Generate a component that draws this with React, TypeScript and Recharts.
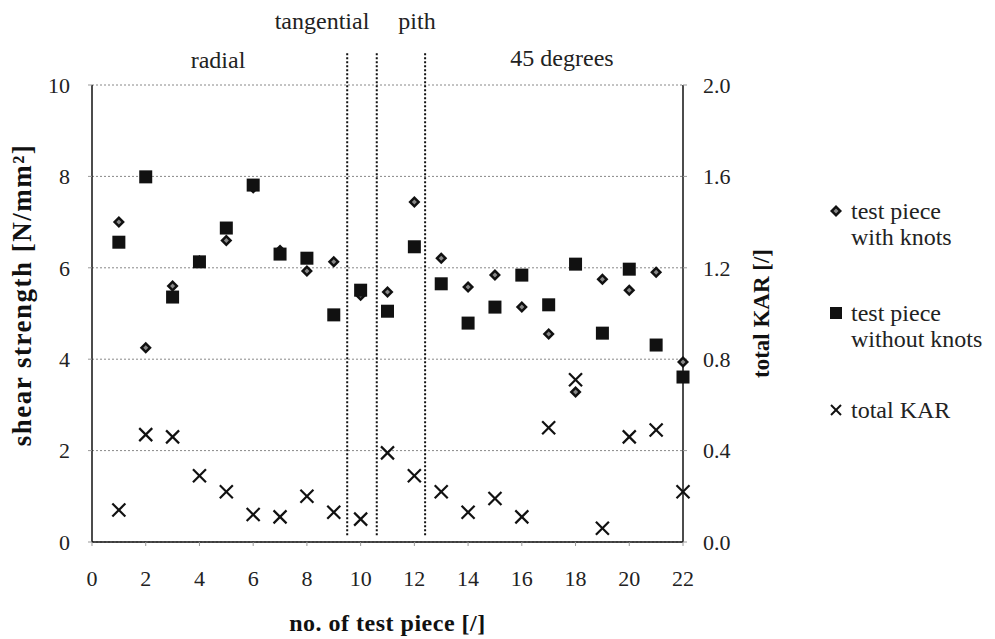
import { ComposedChart, Scatter, XAxis, YAxis, CartesianGrid, ReferenceLine, Label } from 'recharts';

const pieces = [1, 2, 3, 4, 5, 6, 7, 8, 9, 10, 11, 12, 13, 14, 15, 16, 17, 18, 19, 20, 21, 22];
const withKnots = [7.0, 4.25, 5.6, 6.15, 6.6, 7.75, 6.38, 5.93, 6.13, 5.4, 5.47, 7.44, 6.21, 5.58, 5.84, 5.14, 4.55, 3.28, 5.75, 5.51, 5.9, 3.94];
const withoutKnots = [6.56, 7.99, 5.36, 6.13, 6.87, 7.81, 6.3, 6.21, 4.97, 5.51, 5.05, 6.46, 5.65, 4.79, 5.14, 5.84, 5.19, 6.08, 4.57, 5.97, 4.31, 3.61];
const totalKar = [0.14, 0.47, 0.46, 0.29, 0.22, 0.12, 0.11, 0.2, 0.13, 0.1, 0.39, 0.29, 0.22, 0.13, 0.19, 0.11, 0.5, 0.71, 0.06, 0.46, 0.49, 0.22];

const xTicks = [0, 2, 4, 6, 8, 10, 12, 14, 16, 18, 20, 22];
const leftTicks = [0, 2, 4, 6, 8, 10];
const rightTicks = [0, 0.4, 0.8, 1.2, 1.6, 2.0];

// boundaries between the orientation groups
const groupBounds = [9.5, 10.6, 12.4];
const groupLabels = [
  { text: 'radial', x: 218, y: 60 },
  { text: 'tangential', x: 322, y: 21 },
  { text: 'pith', x: 417, y: 21 },
  { text: '45 degrees', x: 562, y: 58 },
];

const knotsData = pieces.map((p, i) => ({ x: p, y: withKnots[i] }));
const plainData = pieces.map((p, i) => ({ x: p, y: withoutKnots[i] }));
const karData = pieces.map((p, i) => ({ x: p, y: totalKar[i] }));

const font = '"Liberation Serif", "Times New Roman", serif';

const Diamond = (props: any) => {
  const { cx, cy } = props;
  const r = 6;
  const r2 = 2.5;
  return (
    <g>
      <path d={`M${cx},${cy - r}L${cx + r},${cy}L${cx},${cy + r}L${cx - r},${cy}Z`} fill="#111" />
      <path d={`M${cx},${cy - r2}L${cx + r2},${cy}L${cx},${cy + r2}L${cx - r2},${cy}Z`} fill="#888" />
    </g>
  );
};

const Square = (props: any) => {
  const { cx, cy } = props;
  return <rect x={cx - 6.5} y={cy - 6.5} width={13} height={13} fill="#111" />;
};

const Cross = (props: any) => {
  const { cx, cy } = props;
  const r = 6.5;
  return (
    <g stroke="#111" strokeWidth={2.2}>
      <line x1={cx - r} y1={cy - r} x2={cx + r} y2={cy + r} />
      <line x1={cx - r} y1={cy + r} x2={cx + r} y2={cy - r} />
    </g>
  );
};

const tickStyle = { fontFamily: font, fontSize: 22, fill: '#222' };
const labelBase = { fontFamily: font, fontWeight: 'bold' as const, fill: '#111', textAnchor: 'middle' as const };

const textBase: React.CSSProperties = {
  position: 'absolute',
  fontFamily: font,
  fontSize: 24,
  color: '#222',
  whiteSpace: 'nowrap',
  lineHeight: '26px',
};

export default function App() {
  return (
    <div style={{ position: 'absolute', left: 0, top: 0, width: 995, height: 639, background: '#fff' }}>
      <ComposedChart width={995} height={639} margin={{ top: 85, right: 212, bottom: 5, left: 0 }}>
        <CartesianGrid yAxisId="left" vertical={false} stroke="#888" strokeDasharray="2 2" />
        <XAxis
          xAxisId={0}
          dataKey="x"
          type="number"
          domain={[0, 22]}
          ticks={xTicks}
          interval={0}
          height={92}
          tick={tickStyle}
          tickSize={4}
          tickMargin={24}
          axisLine={{ stroke: '#111', strokeWidth: 1.5 }}
          tickLine={{ stroke: '#999' }}
        >
          <Label
            value="no. of test piece [/]"
            position="insideBottom"
            offset={3}
            style={{ ...labelBase, fontSize: 24, letterSpacing: 0.5 }}
          />
        </XAxis>
        <YAxis
          yAxisId="left"
          type="number"
          domain={[0, 10]}
          ticks={leftTicks}
          width={92}
          tick={tickStyle}
          tickSize={4}
          tickMargin={18}
          axisLine={{ stroke: '#111', strokeWidth: 1.5 }}
          tickLine={{ stroke: '#999' }}
        />
        <YAxis
          yAxisId="right"
          orientation="right"
          type="number"
          domain={[0, 2]}
          ticks={rightTicks}
          width={100}
          tick={tickStyle}
          tickFormatter={(v: number) => v.toFixed(1)}
          tickSize={4}
          tickMargin={16}
          axisLine={{ stroke: '#111', strokeWidth: 1.5 }}
          tickLine={{ stroke: '#999' }}
        >
          <Label
            value="total KAR [/]"
            angle={-90}
            position="insideRight"
            offset={22}
            style={{ ...labelBase, fontSize: 23 }}
          />
        </YAxis>
        {groupBounds.map((b) => (
          <ReferenceLine
            key={b}
            yAxisId="left"
            ifOverflow="visible"
            segment={[{ x: b, y: 0.15 }, { x: b, y: 10.7 }]}
            stroke="#111"
            strokeWidth={2}
            strokeDasharray="2 2"
          />
        ))}
        <Scatter yAxisId="left" data={knotsData} dataKey="y" shape={Diamond} isAnimationActive={false} />
        <Scatter yAxisId="left" data={plainData} dataKey="y" shape={Square} isAnimationActive={false} />
        <Scatter yAxisId="right" data={karData} dataKey="y" shape={Cross} isAnimationActive={false} />
      </ComposedChart>

      {/* left axis title sits a little above the plot centre in the original */}
      <svg width={60} height={639} style={{ position: 'absolute', left: 0, top: 0 }}>
        <text
          x={22}
          y={295}
          transform="rotate(-90, 22, 295)"
          textAnchor="middle"
          dominantBaseline="central"
          style={{ fontFamily: font, fontWeight: 'bold', fontSize: 27, letterSpacing: 1.5, fill: '#111' }}
        >
          shear strength [N/mm²]
        </text>
      </svg>

      {groupLabels.map((g) => (
        <div key={g.text} style={{ ...textBase, left: g.x, top: g.y - 13, transform: 'translateX(-50%)' }}>
          {g.text}
        </div>
      ))}

      <div style={{ ...textBase, left: 829, top: 198 }}>
        <svg width={14} height={14} style={{ position: 'absolute', left: 0, top: 6 }}>
          <path d="M7,1L13,7L7,13L1,7Z" fill="#111" />
          <path d="M7,4.5L9.5,7L7,9.5L4.5,7Z" fill="#888" />
        </svg>
        <div style={{ paddingLeft: 22 }}>test piece<br />with knots</div>
      </div>
      <div style={{ ...textBase, left: 829, top: 300 }}>
        <svg width={14} height={14} style={{ position: 'absolute', left: 0, top: 6 }}>
          <rect x={1} y={1} width={12} height={12} fill="#111" />
        </svg>
        <div style={{ paddingLeft: 22 }}>test piece<br />without knots</div>
      </div>
      <div style={{ ...textBase, left: 829, top: 397 }}>
        <svg width={14} height={14} style={{ position: 'absolute', left: 0, top: 6 }}>
          <g stroke="#111" strokeWidth={2}>
            <line x1={2} y1={2} x2={12} y2={12} />
            <line x1={2} y1={12} x2={12} y2={2} />
          </g>
        </svg>
        <div style={{ paddingLeft: 22 }}>total KAR</div>
      </div>
    </div>
  );
}
